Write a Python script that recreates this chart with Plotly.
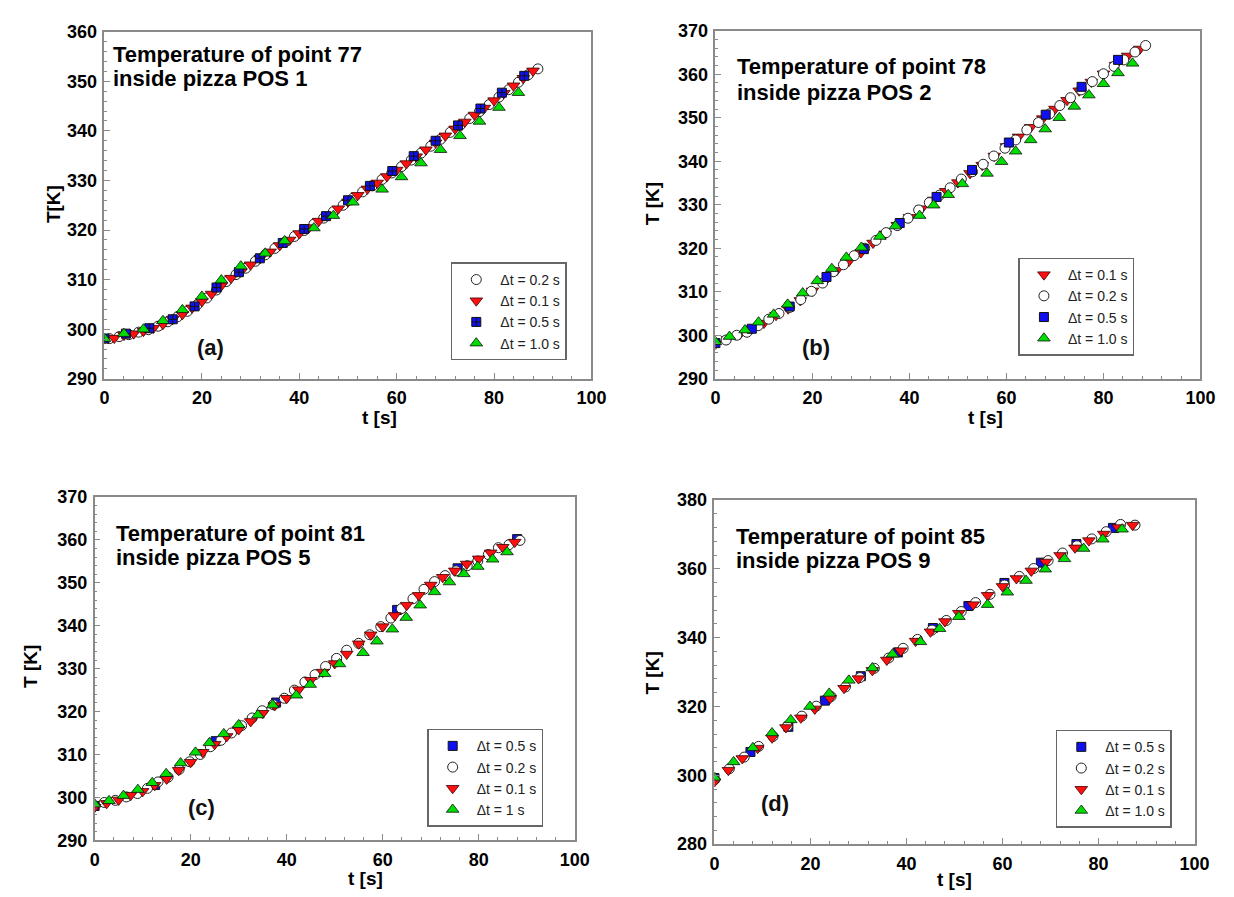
import plotly.graph_objects as go

W, H = 1234, 897

# ---------------- data ----------------
# Panel (a): point 77, POS 1
A_t_02 = [1,3,5,7,9,11,13,15,17,19,21,23,25,27,29,31,33,35,37,39,41,43,45,47,49,51,53,55,57,59,61,63,65,67,69,71,73,75,77,79,81,83,85,87,89]
A_T_02 = [298.1,298.5,298.9,299.4,299.9,300.6,301.5,302.5,303.6,304.9,306.3,307.9,309.6,311.0,312.3,313.7,315.0,316.3,317.5,318.7,319.9,321.2,322.4,323.7,325.0,326.4,327.7,328.9,330.2,331.5,332.8,334.1,335.5,336.9,338.3,339.7,341.1,342.5,343.9,345.3,346.8,348.3,349.8,351.3,352.5]
A_t_01 = [0,2,4,6,8,10,12,14,16,18,20,22,24,26,28,30,32,34,36,38,40,42,44,46,48,50,52,54,56,58,60,62,64,66,68,70,72,74,76,78,80,82,84,86,88]
A_T_01 = [298.1,298.2,298.8,299.1,299.6,300.2,301.0,302.0,303.0,304.3,305.6,307.1,308.8,310.3,311.6,313.0,314.3,315.6,316.9,318.0,319.3,320.5,321.8,323.0,324.3,325.7,327.0,328.3,329.5,330.8,332.1,333.4,334.8,336.2,337.6,339.0,340.4,341.8,343.2,344.6,346.1,347.6,349.1,350.6,352.1]
A_t_05 = [0,4.4,9.2,14,18.5,23,27.6,31.9,36.6,41,45.5,50,54.5,59.1,63.5,68,72.6,77.2,81.6,86.2]
A_T_05 = [298.1,299.1,300.2,302.0,304.6,308.4,311.5,314.3,317.4,320.2,322.8,326.0,328.9,331.9,334.9,338.0,341.1,344.5,347.7,351.1]
A_t_10 = [0,4,8,12,16,20,24,28,33,37,43,47,51,57,61,65,69,73,77,81,85]
A_T_10 = [298.1,299.1,300.0,301.7,303.9,306.6,309.9,312.7,315.3,317.8,320.4,322.9,325.6,328.2,330.7,333.5,336.2,339.0,341.9,344.7,347.7]

# Panel (b): point 78, POS 2
B_t_01 = [0,2.5,5,7.5,10,12.5,15,17.5,20,22.5,25,27.5,30,32.5,35,37.5,40,42.5,45,47.5,50,52.5,55,57.5,60,62.5,65,67.5,70,72.5,75,77.5,80,82.5,85,87.5]
B_T_01 = [298.0,299.1,300.2,301.5,302.8,304.6,306.1,308.0,310.2,312.3,314.9,317.0,319.0,321.2,323.3,325.3,327.1,329.1,331.1,333.1,335.1,337.2,339.1,341.2,343.4,345.6,347.8,349.8,352.0,354.0,356.2,358.2,360.1,362.1,364.2,365.8]
B_t_02 = [2.2,4.4,6.5,8.8,11,13.1,15.3,17.6,19.8,22.1,24.3,26.4,28.6,30.8,33.1,35.2,37.5,39.7,41.9,44.1,46.2,48.4,50.7,53,55.2,57.4,59.7,61.9,64.2,66.6,68.9,71,73.2,75.4,77.7,80,82.2,84.2,86.5,88.7]
B_T_02 = [298.9,300.0,300.7,302.2,303.7,305.0,306.4,308.2,310.1,312.0,314.6,316.2,318.3,320.0,321.8,323.6,325.2,326.9,328.8,330.5,332.2,333.9,335.9,337.6,339.3,341.2,343.0,344.9,347.2,348.9,350.9,352.8,354.6,356.4,358.3,360.1,361.8,363.3,365.1,366.6]
B_t_05 = [0,7.5,15.3,22.9,30.6,38,45.6,52.9,60.5,68.1,75.5,83]
B_T_05 = [298.2,301.5,306.6,313.4,319.8,325.8,331.8,338.0,344.3,350.7,357.1,363.3]
B_t_10 = [0,2.9,6.1,8.9,12,14.9,18,21,24,27,30.1,33.9,37.1,42.1,45,48,50.9,56,59,61.9,65,68,70.9,74,77,80,83,86]
B_T_10 = [298.5,299.7,301.2,303.0,304.8,307.1,309.7,312.5,315.3,317.9,320.2,322.7,325.1,327.5,329.9,332.3,334.8,337.2,339.9,342.3,344.9,347.4,350.0,352.6,355.2,357.8,360.3,362.5]

# Panel (c): point 81, POS 5
C_t_05 = [0,12.6,25.2,37.8,50.4,63,75.6,88]
C_T_05 = [298.0,302.9,313.1,322.1,332.0,343.7,353.4,360.2]
C_t_02 = [2,4.3,6.6,8.9,11,13.2,15.3,17.6,19.8,22,24.1,26.3,28.5,30.6,32.8,34.9,37.2,39.5,41.6,43.8,45.9,48.1,50.4,52.5,55,57.3,59.6,61.7,63.9,66.3,68.6,70.8,73,75.3,77.6,79.8,82,84.1,86.3,88.6]
C_T_02 = [298.8,299.3,300.1,300.9,302.1,303.6,304.7,306.5,308.3,310.0,311.8,313.3,315.0,316.7,318.5,320.2,321.6,323.1,325.0,326.9,328.6,330.5,332.4,334.3,335.9,337.9,339.8,341.8,344.0,346.3,348.5,350.3,351.7,352.8,354.0,355.1,356.6,358.2,358.9,359.9]
C_t_01 = [0,2.5,5,7.5,10,12.5,15,17.5,20,22.5,25,27.5,30,32.5,35,37.5,40,42.5,45,47.5,50,52.5,55,57.5,60,62.5,65,67.5,70,72.5,75,77.5,80,82.5,85,87.5]
C_T_01 = [297.7,298.6,299.4,300.5,301.4,302.8,304.3,306.3,308.2,310.5,312.4,314.2,315.8,317.7,319.6,321.4,323.1,325.1,327.3,329.2,331.2,333.4,335.8,337.9,339.8,342.4,344.8,347.1,349.5,351.3,352.8,354.4,355.6,357.0,358.3,359.5]
C_t_10 = [0,3,6,9,12,14.9,17.9,21,23.9,26.9,30,34,37.1,42,44.9,47.9,51,55.9,58.8,62,64.9,67.8,70.8,73.9,76.9,79.8,82.9,85.9]
C_T_10 = [298.4,299.2,300.4,301.8,303.4,305.5,308.0,310.5,312.7,314.8,316.9,319.2,321.5,323.8,326.3,328.8,331.1,333.7,336.4,339.2,341.9,344.8,347.9,350.2,352.1,353.8,355.5,357.2]

# Panel (d): point 85, POS 9
D_t_05 = [0,7.5,15.4,23,30.5,38.2,45.5,52.9,60.4,68,75.4,83]
D_T_05 = [299.2,306.8,314.1,321.7,328.8,335.7,342.8,349.2,355.9,361.8,367.2,371.9]
D_t_02 = [0,3.1,6.2,9.2,12.2,15.2,18.2,21.2,24.3,27.3,30.3,33.3,36.3,39.3,42.3,45.3,48.3,51.4,54.4,57.4,60.4,63.5,66.5,69.5,72.5,75.5,78.6,81.6,84.6,87.6]
D_T_02 = [298.7,301.9,305.3,308.4,311.3,314.3,317.2,320.1,322.9,325.7,328.4,331.1,334.1,336.9,339.5,342.2,345.0,347.6,350.2,352.6,355.3,357.8,360.1,362.4,364.6,366.7,368.7,370.8,372.9,372.7]
D_t_01 = [0,2.9,5.8,9,12,14.9,18,20.9,24.1,27,30,32.9,35.9,38.8,41.9,45,48,50.9,53.9,56.9,60,62.9,66,69,72,75.1,78,81.1,84.1,87.1]
D_T_01 = [298.2,301.5,304.9,307.9,310.9,313.9,316.7,319.3,322.4,325.3,328.1,330.5,333.5,336.2,339.0,341.7,344.7,347.1,349.6,352.3,354.9,357.2,359.4,362.0,363.9,366.1,368.2,370.1,372.0,372.7]
D_t_10 = [0,4,8,12,15.9,19.9,23.9,28,32.9,37.1,42.9,46.9,50.9,56.9,61,64.9,68.9,72.9,76.9,80.9,84.9]
D_T_10 = [299.4,303.9,308.0,312.3,316.1,320.0,323.8,327.6,331.2,335.2,338.8,342.6,346.1,349.6,353.2,356.6,359.9,362.9,365.9,368.6,371.5]

panel_title_lines = [("Temperature of point 77", "inside pizza POS 1"),
                     ("Temperature of point 78", "inside pizza POS 2"),
                     ("Temperature of point 81", "inside pizza POS 5"),
                     ("Temperature of point 85", "inside pizza POS 9")]
panel_tags = ["(a)", "(b)", "(c)", "(d)"]
y_titles = ["T[K]", "T [K]", "T [K]", "T [K]"]
x_title = "t [s]"
y_ranges = [(290, 360), (290, 370), (290, 370), (280, 380)]
y_dticks = [10, 10, 10, 20]

# ---------------- styles ----------------
FONT = "Liberation Sans, Arial, sans-serif"
STY = {
    "0.2": dict(symbol="circle", color="white", line=dict(color="#222222", width=1), size=10),
    "0.1": dict(symbol="triangle-down", color="#ff1010", line=dict(color="#3a0000", width=0.8), size=11),
    "0.5": dict(symbol="square", color="#1010ee", line=dict(color="#111111", width=1), size=9),
    "0.5x": dict(symbol="square-cross", color="#1010ee", line=dict(color="#111111", width=1), size=9),
    "1.0": dict(symbol="triangle-up", color="#00dd00", line=dict(color="#111111", width=0.8), size=11),
}

# panel pixel boxes: (left, top, right, bottom)
boxes = [(93, 14, 588, 369), (714, 13, 1207, 369), (83, 490, 571, 841), (713, 493, 1201, 845)]

def px(x):
    return x / W

def py(y):
    return 1 - y / H

fig = go.Figure()

panels = [
    [("0.2", "Δt = 0.2 s", A_t_02, A_T_02), ("0.1", "Δt = 0.1 s", A_t_01, A_T_01),
     ("0.5x", "Δt = 0.5 s", A_t_05, A_T_05), ("1.0", "Δt = 1.0 s", A_t_10, A_T_10)],
    [("0.1", "Δt = 0.1 s", B_t_01, B_T_01), ("0.2", "Δt = 0.2 s", B_t_02, B_T_02),
     ("0.5", "Δt = 0.5 s", B_t_05, B_T_05), ("1.0", "Δt = 1.0 s", B_t_10, B_T_10)],
    [("0.5", "Δt = 0.5 s", C_t_05, C_T_05), ("0.2", "Δt = 0.2 s", C_t_02, C_T_02),
     ("0.1", "Δt = 0.1 s", C_t_01, C_T_01), ("1.0", "Δt = 1 s", C_t_10, C_T_10)],
    [("0.5", "Δt = 0.5 s", D_t_05, D_T_05), ("0.2", "Δt = 0.2 s", D_t_02, D_T_02),
     ("0.1", "Δt = 0.1 s", D_t_01, D_T_01), ("1.0", "Δt = 1.0 s", D_t_10, D_T_10)],
]

legend_pos = [(445, 250), (1022, 245), (421, 727), (1060, 728)]
title_pos = [(100, 37, 62), (734, 50, 76), (103, 527, 552), (733, 530, 555)]
tag_pos = [(201, 337), (816, 337), (192, 808), (775, 803)]
ytitle_pos = [(41, 190), (650, 190), (17, 663), (650, 670)]
xtitle_pos = [(373, 409), (989, 409), (358, 880), (957, 881)]

layout = dict(
    width=W, height=H, margin=dict(l=0, r=0, t=0, b=0),
    paper_bgcolor="white", plot_bgcolor="white",
    font=dict(family=FONT, color="black"),
    showlegend=True,
)
annotations = []

for i, series in enumerate(panels):
    n = "" if i == 0 else str(i + 1)
    xa, ya = "x" + n, "y" + n
    lg = "legend" + n
    for key, name, tt, TT in series:
        s = STY[key]
        fig.add_trace(go.Scatter(
            x=tt, y=TT, mode="markers", name=name, xaxis=xa, yaxis=ya, legend=lg,
            marker=dict(symbol=s["symbol"], color=s["color"], size=s["size"], line=s["line"]),
        ))
    l, t, r, b = boxes[i]
    axis_common = dict(
        showline=True, linecolor="#8a8a8a", linewidth=1.5, mirror=True,
        showgrid=False, zeroline=False, ticks="inside", ticklen=6, tickwidth=1,
        tickcolor="#8a8a8a", tickfont=dict(family=FONT, size=18, weight="bold", color="black"),
        ticklabelstandoff=2,
    )
    layout["xaxis" + n] = dict(
        domain=[px(l), px(r)], range=[0, 100], dtick=20, anchor=ya,
        minor=dict(dtick=4, ticks="inside", ticklen=3, tickcolor="#8a8a8a"),
        **axis_common)
    y0, y1 = y_ranges[i]
    layout["yaxis" + n] = dict(
        domain=[py(b), py(t)], range=[y0, y1], dtick=y_dticks[i], anchor=xa,
        minor=dict(dtick=y_dticks[i] / 5, ticks="inside", ticklen=3, tickcolor="#8a8a8a"),
        **axis_common)
    lx, ly = legend_pos[i]
    layout[lg] = dict(
        x=px(lx), y=py(ly), xanchor="left", yanchor="top", xref="paper", yref="paper",
        bgcolor="white", bordercolor="#666666", borderwidth=1.5,
        font=dict(family=FONT, size=14, color="#222222"), itemwidth=38,
        tracegroupgap=0,
    )
    tx, ty1, ty2 = title_pos[i]
    for line, ty in zip(panel_title_lines[i], (ty1, ty2)):
        annotations.append(dict(
            text=line, x=px(tx), y=py(ty), xref="paper", yref="paper",
            xanchor="left", yanchor="middle", align="left", showarrow=False,
            font=dict(family=FONT, size=22, weight="bold", color="black")))
    gx, gy = tag_pos[i]
    annotations.append(dict(
        text=panel_tags[i], x=px(gx), y=py(gy), xref="paper", yref="paper",
        xanchor="center", yanchor="middle", showarrow=False,
        font=dict(family=FONT, size=22, weight="bold", color="#111111")))
    yx, yy = ytitle_pos[i]
    annotations.append(dict(
        text=y_titles[i], x=px(yx), y=py(yy), xref="paper", yref="paper",
        xanchor="center", yanchor="middle", textangle=-90, showarrow=False,
        font=dict(family=FONT, size=19, weight="bold", color="black")))
    xx, xy = xtitle_pos[i]
    annotations.append(dict(
        text=x_title, x=px(xx), y=py(xy), xref="paper", yref="paper",
        xanchor="center", yanchor="middle", showarrow=False,
        font=dict(family=FONT, size=19, weight="bold", color="black")))

layout["annotations"] = annotations
fig.update_layout(**layout)
fig.write_html("out.html")
